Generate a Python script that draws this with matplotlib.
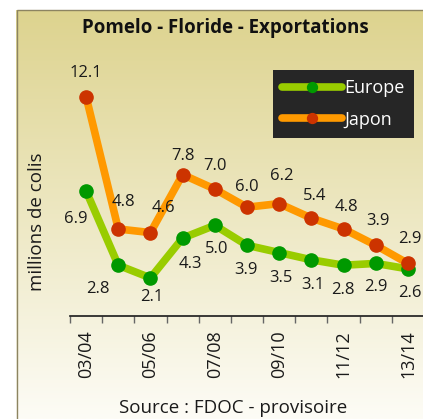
import matplotlib
matplotlib.use("Agg")
import matplotlib.pyplot as plt
from matplotlib.patches import Rectangle
import numpy as np

seasons = ["03/04", "04/05", "05/06", "06/07", "07/08", "08/09",
           "09/10", "10/11", "11/12", "12/13", "13/14"]
europe = [6.9, 2.8, 2.1, 4.3, 5.0, 3.9, 3.5, 3.1, 2.8, 2.9, 2.6]
japon = [12.1, 4.8, 4.6, 7.8, 7.0, 6.0, 6.2, 5.4, 4.8, 3.9, 2.9]

# label offsets in pixels (dx, dy) from each marker
europe_off = [(-10, -28), (-20, -24), (1, -19), (8, -26), (2, -24), (-1, -25),
              (2, -25), (2, -25), (-1, -25), (0, -24), (2, -24)]
japon_off = [(0, 24), (5, 27), (13, 25), (0, 19), (0, 23), (0, 20),
             (3, 28), (3, 22), (3, 22), (2, 24), (2, 24)]

plt.rcParams['font.family'] = ['Open Sans', 'DejaVu Sans']

W, H = 423, 419
fig = plt.figure(figsize=(W / 100, H / 100), dpi=100)
fig.patch.set_facecolor('white')

# gradient background panel
bg = fig.add_axes([16 / W, 0, 1 - 16 / W, (H - 10) / H], zorder=0)
grad = np.linspace(0, 1, 256).reshape(-1, 1)
top = np.array([221, 211, 142]) / 255
bot = np.array([253, 252, 246]) / 255
img = top[None, None, :] * (1 - grad[:, :, None]) + bot[None, None, :] * grad[:, :, None]
bg.imshow(img, aspect='auto', extent=[0, 1, 0, 1], interpolation='bilinear')
bg.set_xlim(0, 1)
bg.set_ylim(0, 1)
bg.axis('off')
fig.add_artist(Rectangle((16.5 / W, -0.1), 1.2, (H - 10.5) / H + 0.1,
                         transform=fig.transFigure, fill=False,
                         edgecolor='#8c8461', lw=1.0, zorder=1))

ax = fig.add_axes([70 / W, (H - 316) / H, 354 / W, 14 * 18.13 / H], zorder=2)
ax.patch.set_alpha(0)
x = np.arange(len(seasons))

ax.plot(x, europe, color='#99cc00', lw=5.5, marker='o', markersize=9.5,
        markerfacecolor='#009900', markeredgecolor='#009900',
        solid_capstyle='round', label='Europe', zorder=3)
ax.plot(x, japon, color='#ff9900', lw=5.5, marker='o', markersize=9.5,
        markerfacecolor='#cc3300', markeredgecolor='#cc3300',
        solid_capstyle='round', label='Japon', zorder=4)

for xi, v, off in zip(x, europe, europe_off):
    ax.annotate(f"{v:.1f}", (xi, v), xytext=off, textcoords='offset pixels',
                ha='center', va='center', fontsize=12, color='#1a1a1a', zorder=6)
for xi, v, off in zip(x, japon, japon_off):
    ax.annotate(f"{v:.1f}", (xi, v), xytext=off, textcoords='offset pixels',
                ha='center', va='center', fontsize=12, color='#1a1a1a', zorder=6)

ax.set_xlim(-0.5, len(seasons) - 0.5)
ax.set_ylim(0, 14)
for s in ['top', 'right', 'left']:
    ax.spines[s].set_visible(False)
ax.spines['bottom'].set_color('#1a1a1a')
ax.spines['bottom'].set_linewidth(1.2)
ax.set_yticks([])
ax.set_xticks(x[::2])
ax.set_xticklabels(seasons[::2], rotation=90, fontsize=13, color='#1a1a1a')
ax.set_xticks(np.arange(-0.5, len(seasons)), minor=True)
ax.tick_params(axis='x', which='major', length=0, pad=10)
ax.tick_params(axis='x', which='minor', length=5, color='#666666', width=1)

leg = ax.legend(loc='upper left', bbox_to_anchor=(273 / W, (H - 70) / H),
                bbox_transform=fig.transFigure, facecolor='#262626',
                framealpha=1, edgecolor='#262626', fancybox=False,
                labelcolor='white', fontsize=13, numpoints=1, markerscale=0.75,
                handlelength=3.3, handletextpad=0.15, borderpad=0.5,
                labelspacing=0.75, borderaxespad=0)
leg.get_frame().set_linewidth(0)
leg.set_zorder(7)

fig.text(225 / W, 1 - 28 / H, 'Pomelo - Floride - Exportations',
         ha='center', va='center', fontsize=13.5, fontweight='bold',
         color='#111111')
fig.text(37 / W, 1 - 222 / H, 'millions de colis', rotation=90,
         ha='center', va='center', fontsize=13.5, color='#1a1a1a')
fig.text(233 / W, 1 - 408 / H, 'Source : FDOC - provisoire',
         ha='center', va='center', fontsize=13.5, color='#1a1a1a')

fig.savefig('out.png', dpi=100)
